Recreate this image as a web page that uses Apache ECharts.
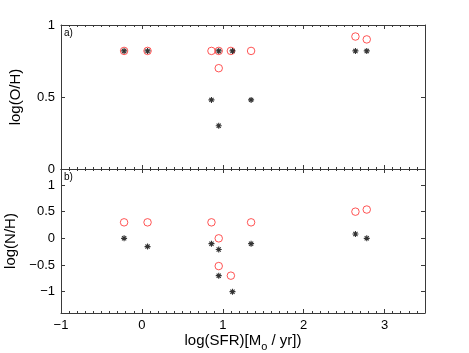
<!DOCTYPE html>
<html><head><meta charset="utf-8">
<script src="https://cdn.jsdelivr.net/npm/echarts@6/dist/echarts.min.js"></script>
<style>html,body{margin:0;padding:0;background:#fff}#c{width:469px;height:353px}</style>
</head><body><div id="c"></div>
<script>
// Panel a) log(O/H)
const ohCircleX = [-0.22, 0.07, 0.86, 0.95, 0.95, 1.10, 1.35, 2.64, 2.78];
const ohCircleY = [0.82, 0.82, 0.82, 0.82, 0.70, 0.82, 0.82, 0.92, 0.90];
const ohStarX = [-0.22, 0.07, 0.86, 0.95, 0.95, 1.12, 1.35, 2.64, 2.78];
const ohStarY = [0.82, 0.82, 0.48, 0.82, 0.30, 0.82, 0.48, 0.82, 0.82];
// Panel b) log(N/H)
const nhCircleX = [-0.22, 0.07, 0.86, 0.95, 0.95, 1.10, 1.35, 2.64, 2.78];
const nhCircleY = [0.30, 0.30, 0.30, 0.00, -0.52, -0.70, 0.30, 0.50, 0.54];
const nhStarX = [-0.22, 0.07, 0.86, 0.95, 0.95, 1.12, 1.35, 2.64, 2.78];
const nhStarY = [0.00, -0.155, -0.10, -0.21, -0.70, -1.00, -0.10, 0.08, 0.00];
// ticks
const xTicks = [-1, 0, 1, 2, 3];
const ohTicks = [0, 0.5, 1];
const nhTicks = [-1, -0.5, 0, 0.5, 1];

const pair = (xs, ys) => xs.map((x, i) => [x, ys[i]]);
const FONT = 'Liberation Sans';
const AXC = '#3a3a3a';
const starPath = 'path://M5,0L5,10M0,5L10,5M1.5,1.5L8.5,8.5M8.5,1.5L1.5,8.5';
const fmt = v => (v < 0 ? '\u2212' + Math.abs(v) : String(v));

function xAx(grid, pos, labels) {
  return {
    type: 'value', gridIndex: grid, position: pos, min: -1, max: 3.5, interval: 1,
    axisLine: {show: true, onZero: false, lineStyle: {color: AXC, width: 1}},
    axisTick: {show: true, inside: true, length: 4, lineStyle: {color: AXC}},
    minorTick: {show: true, splitNumber: 10, length: 2, lineStyle: {color: AXC}},
    axisLabel: {show: labels, color: '#000', fontSize: 13, fontFamily: FONT, margin: 6, formatter: fmt,
      customValues: xTicks},
    splitLine: {show: false},
    name: labels ? 'log(SFR)[M{sub|o} / yr])' : '', nameLocation: 'middle', nameGap: 16,
    nameTextStyle: {color: '#000', fontSize: 15, fontFamily: FONT,
      rich: {sub: {fontSize: 11, fontFamily: FONT, color: '#000', padding: [12, 0, 0, 0]}}}
  };
}
function yAx(grid, pos, min, max, ticks, labels, name) {
  return {
    type: 'value', gridIndex: grid, position: pos, min: min, max: max,
    axisLine: {show: true, onZero: false, lineStyle: {color: AXC, width: 1}},
    axisTick: {show: true, inside: true, length: 4, lineStyle: {color: AXC}, customValues: ticks},
    axisLabel: {show: labels, color: '#000', fontSize: 13, fontFamily: FONT, margin: 6, formatter: fmt,
      customValues: ticks},
    splitLine: {show: false},
    name: labels ? name : '', nameLocation: 'middle', nameGap: 38,
    nameTextStyle: {color: '#000', fontSize: 15, fontFamily: FONT}
  };
}
const circleStyle = {color: 'rgba(0,0,0,0)', borderColor: '#ff2a2a', borderWidth: 1};
const starStyle = {color: 'rgba(0,0,0,0)', borderColor: '#000', borderWidth: 1.1};

const chart = echarts.init(document.getElementById('c'), null, {renderer: 'canvas'});
chart.setOption({
  animation: false,
  backgroundColor: '#fff',
  grid: [
    {left: 61, top: 25, width: 364, height: 144, containLabel: false, outerBoundsMode: 'none'},
    {left: 61, top: 169, width: 364, height: 144, containLabel: false, outerBoundsMode: 'none'}
  ],
  xAxis: [xAx(0, 'bottom', false), xAx(0, 'top', false), xAx(1, 'bottom', true), xAx(1, 'top', false)],
  yAxis: [
    yAx(0, 'left', 0, 1, ohTicks, true, 'log(O/H)'),
    yAx(0, 'right', 0, 1, ohTicks, false, ''),
    yAx(1, 'left', -1.4, 1.3, nhTicks, true, 'log(N/H)'),
    yAx(1, 'right', -1.4, 1.3, nhTicks, false, '')
  ],
  graphic: [
    {type: 'text', left: 64, top: 28, style: {text: 'a)', fontSize: 10, fontFamily: FONT, fill: '#000'}},
    {type: 'text', left: 64, top: 172, style: {text: 'b)', fontSize: 10, fontFamily: FONT, fill: '#000'}}
  ],
  series: [
    {type: 'scatter', xAxisIndex: 0, yAxisIndex: 0, data: pair(ohCircleX, ohCircleY), symbol: 'circle', symbolSize: 7.5, itemStyle: circleStyle},
    {type: 'scatter', xAxisIndex: 0, yAxisIndex: 0, data: pair(ohStarX, ohStarY), symbol: starPath, symbolSize: 6, itemStyle: starStyle},
    {type: 'scatter', xAxisIndex: 2, yAxisIndex: 2, data: pair(nhCircleX, nhCircleY), symbol: 'circle', symbolSize: 7.5, itemStyle: circleStyle},
    {type: 'scatter', xAxisIndex: 2, yAxisIndex: 2, data: pair(nhStarX, nhStarY), symbol: starPath, symbolSize: 6, itemStyle: starStyle}
  ]
});
</script></body></html>
